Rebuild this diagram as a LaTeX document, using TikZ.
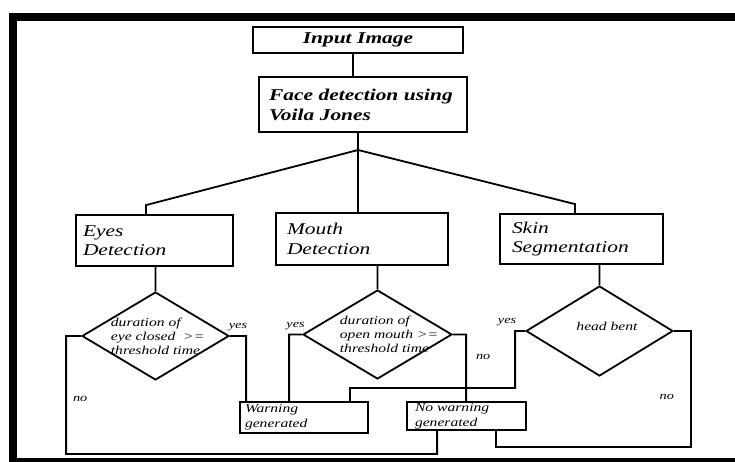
\documentclass[tikz,border=0pt]{standalone}
\usepackage{fontspec}
\setmainfont{Liberation Serif}[FakeStretch=1.3]
\usetikzlibrary{shapes.geometric,calc}

\begin{document}
\begin{tikzpicture}[
        %Environment config
        x=1pt, y=-1pt,
        line width=1.8pt,
        %Environment styles
        BoxCfg/.style={
            draw, rectangle, inner ysep=0pt, align=left,
            font=\fontsize{16.5}{19.5}\selectfont\itshape
        },
        TopCfg/.style={
            font=\fontsize{16.5}{20}\selectfont\bfseries\itshape
        },
        SmallCfg/.style={
            font=\fontsize{12}{15}\selectfont\itshape
        },
        DecCfg/.style={
            draw, diamond, inner sep=0pt
        },
        DecTextCfg/.style={
            inner sep=0pt, anchor=north west, align=left,
            font=\fontsize{12}{14}\selectfont\itshape
        },
        MarkCfg/.style={
            inner sep=1pt, font=\fontsize{11}{13}\selectfont\itshape
        }
    ]
    \useasboundingbox (0,0) rectangle (735,462);
    \clip (0,0) rectangle (735,462);
    \draw[line width=8pt] (13,17) rectangle (800,462);

    \path
        (358,40) node[BoxCfg,TopCfg,align=center,text width=200pt,inner xsep=5pt,minimum height=26pt](IN1){Input Image}
        (363,104.5) node[BoxCfg,TopCfg,text width=188pt,inner xsep=10pt,minimum height=55pt](FACE1){Face detection using\\Voila Jones}
        (154.5,240.5) node[BoxCfg,text width=143pt,inner xsep=7pt,minimum height=51pt](EYE1){Eyes\\Detection}
        (362,239) node[BoxCfg,text width=150pt,inner xsep=11pt,minimum height=52pt](MOUTH1){Mouth\\Detection}
        (581.5,239) node[BoxCfg,text width=139pt,inner xsep=12pt,minimum height=50pt](SKIN1){Skin\\Segmentation}
        (155.5,336) node[DecCfg,minimum width=147pt,minimum height=88pt](DEC1){}
        (377.5,334.5) node[DecCfg,minimum width=149pt,minimum height=89pt](DEC2){}
        (599.5,331) node[DecCfg,minimum width=147pt,minimum height=90pt](DEC3){}
        (304,417.5) node[BoxCfg,SmallCfg,text width=118pt,inner xsep=5pt,minimum height=31pt](WARN1){Warning\\generated}
        (466.5,416) node[BoxCfg,SmallCfg,text width=103pt,inner xsep=8pt,minimum height=28pt](NOWARN1){No warning\\generated};

    \path
        (110,317) node[DecTextCfg](TXT1){duration of\\eye closed\ \ >=\\threshold time}
        (339,315) node[DecTextCfg](TXT2){duration of\\open mouth >=\\threshold time}
        (DEC3.center) ++(7.5,-5) node[DecTextCfg,anchor=center](TXT3){head bent};

    \coordinate (BR) at (358,150);

    \draw
        ([xshift=-5pt]IN1.south) -- ([xshift=-5pt]IN1.south |- FACE1.north)

        (FACE1.south -| BR) -- (BR)

        (BR) -- ([shift={(-8.5,-9)}]EYE1.north) -- ([xshift=-8.5pt]EYE1.north)
        (BR) -- (BR |- MOUTH1.north)
        (BR) -- ([shift={(-6.5,-9)}]SKIN1.north) -- ([xshift=-6.5pt]SKIN1.north)

        (DEC1.north |- EYE1.south) -- (DEC1.north)
        (DEC2.north |- MOUTH1.south) -- (DEC2.north)
        (DEC3.north |- SKIN1.south) -- (DEC3.north)

        (DEC1.east) -| ([xshift=7pt]WARN1.north west)
            node[pos=0.25,above,yshift=3pt,MarkCfg](Y1){yes}

        (DEC1.west) -- ++(-15,0) -- ++(0,118)
            node[pos=0.53,right=5pt,MarkCfg](N1){no}
            -| ([xshift=31pt]NOWARN1.south west)

        (DEC2.west) -| ([xshift=50pt]WARN1.north west)
            node[pos=0.25,above,yshift=3pt,MarkCfg](Y2){yes}

        (DEC2.east) -| ([xshift=60pt]NOWARN1.north west)
            node[pos=0.67,right=8pt,MarkCfg](N2){no}

        (DEC3.west) -- ++(-10,0)
            node[pos=1,above left,xshift=3pt,yshift=3pt,MarkCfg](Y3){yes}
            -- ++(0,57) -| ([xshift=-19pt]WARN1.north east)

        (DEC3.east) -- ++(17,0) -- ++(0,116)
            node[pos=0.57,left=15pt,MarkCfg](N3){no}
            -| ([xshift=-31pt]NOWARN1.south east);

\end{tikzpicture}
\end{document}
